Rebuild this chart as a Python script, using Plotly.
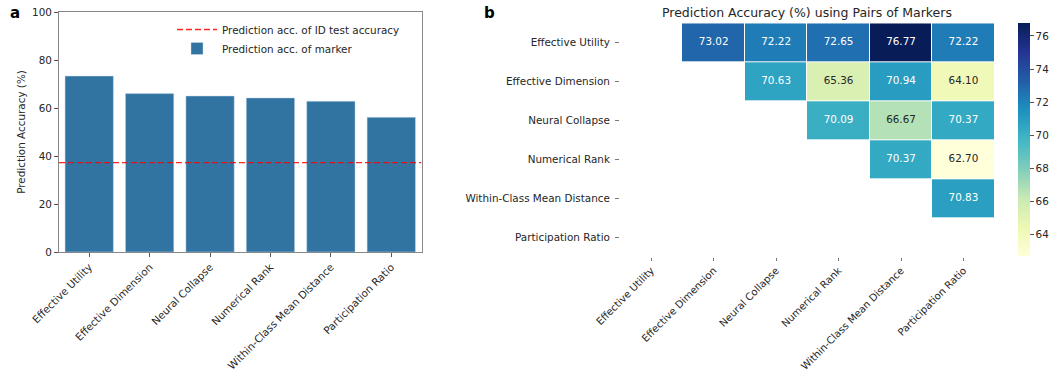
import plotly.graph_objects as go

# ---- data ----
markers = ["Effective Utility", "Effective Dimension", "Neural Collapse",
           "Numerical Rank", "Within-Class Mean Distance", "Participation Ratio"]
marker_acc = [73.3, 66.0, 65.0, 64.2, 62.8, 56.1]
id_test_acc = 37.2

# pairwise accuracy, upper triangle (row marker, column marker)
pair_row0 = [None, 73.02, 72.22, 72.65, 76.77, 72.22]
pair_row1 = [None, None, 70.63, 65.36, 70.94, 64.10]
pair_row2 = [None, None, None, 70.09, 66.67, 70.37]
pair_row3 = [None, None, None, None, 70.37, 62.70]
pair_row4 = [None, None, None, None, None, 70.83]
pair_row5 = [None, None, None, None, None, None]
pair_acc = [pair_row0, pair_row1, pair_row2, pair_row3, pair_row4, pair_row5]

W, H = 1063, 373
FONT = "DejaVu Sans"
FS = 10.4
TXT = "#262626"
ylgnbu = ["#ffffd9", "#edf8b1", "#c7e9b4", "#7fcdbb", "#41b6c4",
          "#1d91c0", "#225ea8", "#253494", "#081d58"]
cscale = [[i / (len(ylgnbu) - 1), c] for i, c in enumerate(ylgnbu)]

def px_x(p):
    return p / W

def px_y(p):
    return 1 - p / H

fig = go.Figure()

# ---- panel a: bars ----
idx = list(range(len(markers)))
fig.add_trace(go.Bar(
    x=idx, y=marker_acc, width=0.8,
    marker=dict(color="#3274a1", line=dict(color="rgba(200,220,235,0.8)", width=0.6)),
    name="Prediction acc. of marker",
    xaxis="x", yaxis="y",
))
fig.add_trace(go.Scatter(
    x=[-0.5, len(markers) - 0.5], y=[id_test_acc, id_test_acc],
    mode="lines", line=dict(color="rgba(255,0,0,0.85)", width=1.3, dash="6px,3px"),
    name="Prediction acc. of ID test accuracy",
    xaxis="x", yaxis="y",
))

# ---- panel b: heatmap ----
flat = [v for row in pair_acc for v in row if v is not None]
zmin, zmax = min(flat), max(flat)
fig.add_trace(go.Heatmap(
    z=pair_acc, x=markers, y=markers,
    colorscale=cscale, zmin=zmin, zmax=zmax,
    xgap=1, ygap=1, hoverongaps=False, showscale=True,
    xaxis="x2", yaxis="y2", showlegend=False,
    colorbar=dict(
        x=px_x(1018), xanchor="left", thickness=12, xpad=0, ypad=0,
        y=px_y(139.7), yanchor="middle", len=233, lenmode="pixels",
        outlinewidth=0, tickmode="linear", tick0=64, dtick=2,
        ticks="outside", ticklen=4, tickcolor="#555",
        tickfont=dict(family=FONT, size=FS, color=TXT),
    ),
))

# cell labels
tx, ty, tt, tc = [], [], [], []
for i, row in enumerate(pair_acc):
    for j, v in enumerate(row):
        if v is None:
            continue
        tx.append(markers[j])
        ty.append(markers[i])
        tt.append(f"{v:.2f}")
        tc.append(TXT if (v - zmin) / (zmax - zmin) < 0.4 else "white")
fig.add_trace(go.Scatter(
    x=tx, y=ty, text=tt, mode="text",
    textfont=dict(family=FONT, size=FS, color=tc),
    xaxis="x2", yaxis="y2", showlegend=False, hoverinfo="skip",
))

fig.update_layout(
    width=W, height=H,
    margin=dict(l=0, r=0, t=0, b=0),
    paper_bgcolor="white", plot_bgcolor="white",
    font=dict(family=FONT, size=FS, color=TXT),
    showlegend=True,
    legend=dict(
        x=px_x(172), y=px_y(15), xanchor="left", yanchor="top",
        bgcolor="rgba(0,0,0,0)", traceorder="reversed",
        font=dict(family=FONT, size=FS, color=TXT),
        itemwidth=40, tracegroupgap=0,
    ),
    bargap=0.2,
    xaxis=dict(
        domain=[px_x(59), px_x(421.5)], range=[-0.5, len(markers) - 0.5],
        tickvals=idx, ticktext=markers, tickangle=-45, automargin=False,
        ticks="outside", ticklen=4, tickcolor="#555",
        showline=True, linecolor="#888", linewidth=1, mirror=True,
        showgrid=False, zeroline=False,
        tickfont=dict(family=FONT, size=FS, color=TXT),
    ),
    yaxis=dict(
        domain=[px_y(252), px_y(12)], range=[0, 100], dtick=20, automargin=False,
        ticks="outside", ticklen=4, tickcolor="#555",
        showline=True, linecolor="#888", linewidth=1, mirror=True,
        showgrid=False, zeroline=False,
        title=dict(text="Prediction Accuracy (%)", standoff=4,
                   font=dict(family=FONT, size=FS, color=TXT)),
        tickfont=dict(family=FONT, size=FS, color=TXT),
    ),
    xaxis2=dict(
        domain=[px_x(620), px_x(994.7)], anchor="y2", automargin=False,
        type="category", categoryorder="array", categoryarray=markers,
        tickangle=-45, ticks="outside", ticklen=3, tickcolor="#777",
        showline=False, showgrid=False, zeroline=False,
        tickfont=dict(family=FONT, size=10.1, color=TXT),
    ),
    yaxis2=dict(
        domain=[px_y(256.7), px_y(23.3)], anchor="x2", automargin=False,
        type="category", categoryorder="array", categoryarray=markers,
        autorange="reversed", ticks="outside", ticklen=4, tickcolor="#777",
        ticklabelstandoff=3,
        showline=False, showgrid=False, zeroline=False,
        tickfont=dict(family=FONT, size=FS, color=TXT),
    ),
    annotations=[
        dict(text="<b>a</b>", x=px_x(8), y=px_y(13), xref="paper", yref="paper",
             xanchor="left", yanchor="middle", showarrow=False,
             font=dict(family=FONT, size=15, color="black")),
        dict(text="<b>b</b>", x=px_x(482), y=px_y(13), xref="paper", yref="paper",
             xanchor="left", yanchor="middle", showarrow=False,
             font=dict(family=FONT, size=15, color="black")),
        dict(text="Prediction Accuracy (%) using Pairs of Markers",
             x=px_x(807), y=px_y(12), xref="paper", yref="paper",
             xanchor="center", yanchor="middle", showarrow=False,
             font=dict(family=FONT, size=12.5, color=TXT)),
    ],
)

fig.write_html("out.html")
